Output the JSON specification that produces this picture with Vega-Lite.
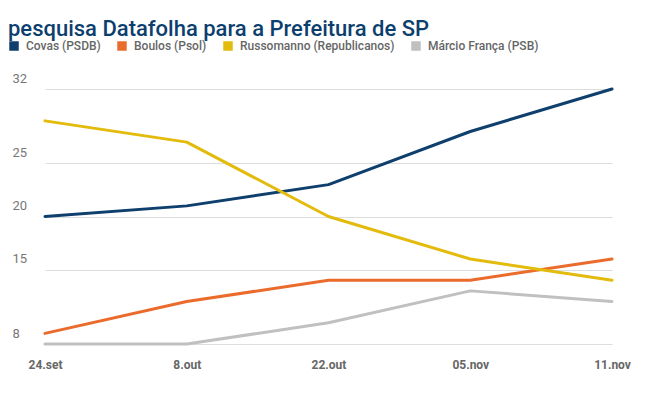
{
  "$schema": "https://vega.github.io/schema/vega-lite/v6.json",
  "width": 602,
  "height": 255,
  "autosize": "none",
  "padding": {"left": 10, "top": 89, "right": 39, "bottom": 53},
  "background": "white",
  "title": {
    "text": "pesquisa Datafolha para a Prefeitura de SP",
    "anchor": "start",
    "frame": "group",
    "font": "Roboto",
    "fontSize": 22,
    "fontWeight": 500,
    "color": "#0d3f6e",
    "offset": 4,
    "dy": 5,
    "dx": -2
  },
  "data": {
    "values": [
      {"data": "24.set", "candidato": "Covas (PSDB)", "valor": 20},
      {"data": "8.out", "candidato": "Covas (PSDB)", "valor": 21},
      {"data": "22.out", "candidato": "Covas (PSDB)", "valor": 23},
      {"data": "05.nov", "candidato": "Covas (PSDB)", "valor": 28},
      {"data": "11.nov", "candidato": "Covas (PSDB)", "valor": 32},
      {"data": "24.set", "candidato": "Boulos (Psol)", "valor": 9},
      {"data": "8.out", "candidato": "Boulos (Psol)", "valor": 12},
      {"data": "22.out", "candidato": "Boulos (Psol)", "valor": 14},
      {"data": "05.nov", "candidato": "Boulos (Psol)", "valor": 14},
      {"data": "11.nov", "candidato": "Boulos (Psol)", "valor": 16},
      {"data": "24.set", "candidato": "Russomanno (Republicanos)", "valor": 29},
      {"data": "8.out", "candidato": "Russomanno (Republicanos)", "valor": 27},
      {"data": "22.out", "candidato": "Russomanno (Republicanos)", "valor": 20},
      {"data": "05.nov", "candidato": "Russomanno (Republicanos)", "valor": 16},
      {"data": "11.nov", "candidato": "Russomanno (Republicanos)", "valor": 14},
      {"data": "24.set", "candidato": "Márcio França (PSB)", "valor": 8},
      {"data": "8.out", "candidato": "Márcio França (PSB)", "valor": 8},
      {"data": "22.out", "candidato": "Márcio França (PSB)", "valor": 10},
      {"data": "05.nov", "candidato": "Márcio França (PSB)", "valor": 13},
      {"data": "11.nov", "candidato": "Márcio França (PSB)", "valor": 12}
    ]
  },
  "mark": {"type": "line", "strokeWidth": 3, "strokeCap": "round", "strokeJoin": "round"},
  "encoding": {
    "x": {
      "field": "data",
      "type": "ordinal",
      "sort": null,
      "scale": {"type": "point", "range": [35, 602], "padding": 0},
      "axis": {
        "title": null,
        "domain": false,
        "ticks": false,
        "grid": false,
        "labelAngle": 0,
        "labelFont": "Roboto",
        "labelFontSize": 12,
        "labelFontWeight": "bold",
        "labelColor": "#666666",
        "labelPadding": 15
      }
    },
    "y": {
      "field": "valor",
      "type": "quantitative",
      "scale": {"domain": [8, 32], "nice": false, "zero": false},
      "axis": {
        "title": null,
        "values": [8, 15, 20, 25, 32],
        "domain": false,
        "ticks": false,
        "grid": true,
        "gridColor": "#dddddd",
        "gridWidth": 1,
        "labelAlign": "left",
        "labelBaseline": "bottom",
        "labelPadding": -2,
        "labelOffset": -4,
        "labelFont": "Roboto",
        "labelFontSize": 13,
        "labelColor": "#777777"
      }
    },
    "color": {
      "field": "candidato",
      "type": "nominal",
      "sort": ["Covas (PSDB)", "Boulos (Psol)", "Russomanno (Republicanos)", "Márcio França (PSB)"],
      "scale": {
        "domain": ["Covas (PSDB)", "Boulos (Psol)", "Russomanno (Republicanos)", "Márcio França (PSB)"],
        "range": ["#0e3f6d", "#ea6b2b", "#e2bb0c", "#c0c0c0"]
      },
      "legend": {
        "title": null,
        "orient": "none",
        "legendX": -2,
        "legendY": -49,
        "direction": "horizontal",
        "symbolType": "square",
        "symbolSize": 90,
        "labelFont": "Roboto",
        "labelFontSize": 12,
        "labelFontWeight": 500,
        "labelColor": "#666666",
        "labelOffset": 6,
        "labelLimit": 300,
        "columnPadding": 15,
        "encode": {
          "symbols": {
            "update": {
              "fill": {"scale": "color", "field": "value"},
              "fillOpacity": {"value": 1},
              "strokeWidth": {"value": 0}
            }
          }
        }
      }
    }
  },
  "config": {"view": {"stroke": null}}
}
